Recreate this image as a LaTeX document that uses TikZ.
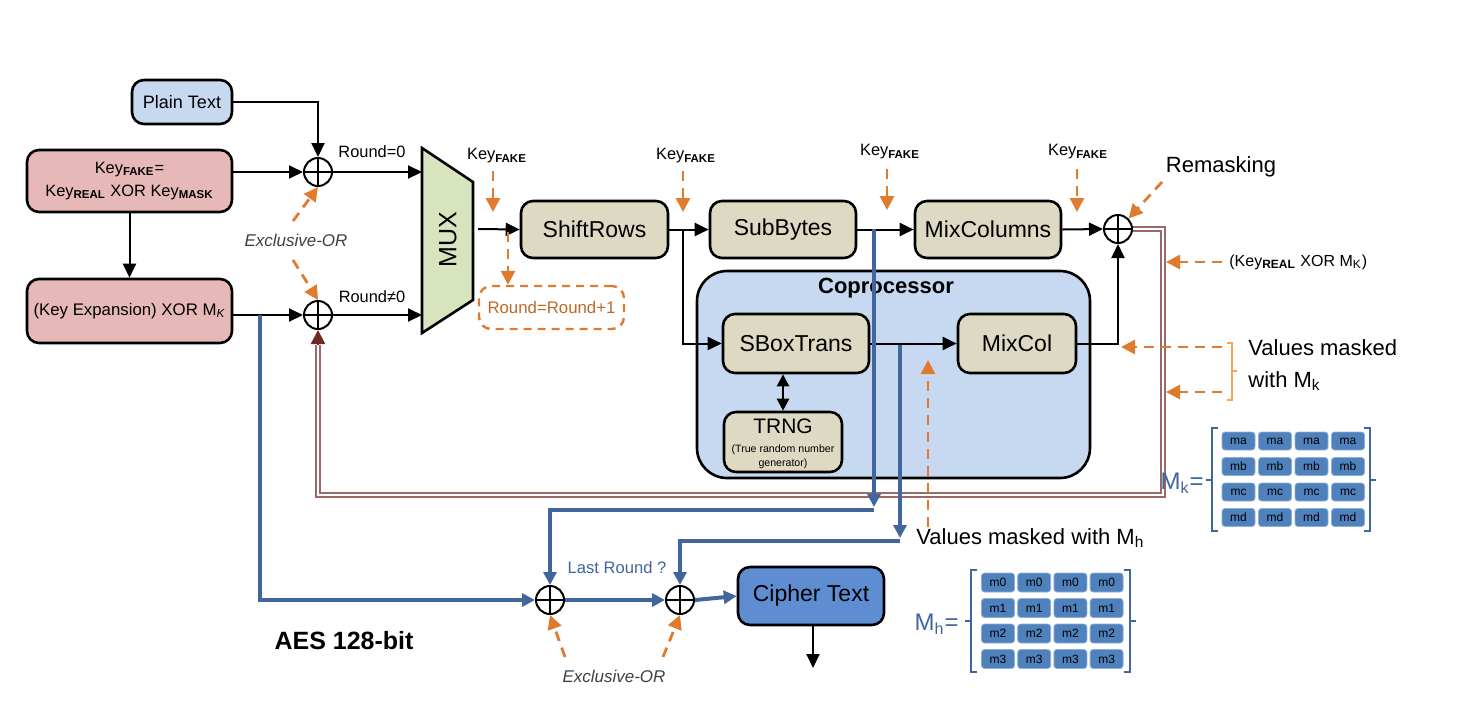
\documentclass[tikz,border=0pt]{standalone}
\usepackage{fontspec}
\setmainfont{Liberation Sans}
\usetikzlibrary{arrows.meta,calc}
\definecolor{tanc}{HTML}{DDD9C3}
\definecolor{pinkc}{HTML}{E6B9B8}
\definecolor{ltblue}{HTML}{C6D9F1}
\definecolor{muxg}{HTML}{D7E4BD}
\definecolor{orng}{HTML}{E07A2F}
\definecolor{orngl}{HTML}{F5A65B}
\definecolor{bline}{HTML}{41669E}
\definecolor{brn}{HTML}{9A6A6A}
\definecolor{dred}{HTML}{6E2A22}
\definecolor{ciph}{HTML}{5E8DD2}
\definecolor{cellc}{HTML}{4F81BD}
\definecolor{cellb}{HTML}{8FB0D8}
\definecolor{mtxt}{HTML}{41659E}
\definecolor{gtxt}{HTML}{404040}
\newcommand\sbb[1]{\textsubscript{\bfseries #1}}
\begin{document}
\begin{tikzpicture}[x=0.5pt,y=-0.5pt,
  blk/.style={draw=black, line width=1.3pt, rounded corners=6pt, fill=tanc, inner sep=0pt,
    font=\fontsize{11.5}{13}\selectfont},
  xor/.style={circle, draw=black, line width=1pt, minimum size=14pt, inner sep=0pt,
    path picture={\draw[line width=1pt] (path picture bounding box.north) -- (path picture bounding box.south)
      (path picture bounding box.west) -- (path picture bounding box.east);}},
  arr/.style={line width=1pt, -{Triangle[length=7pt,width=6.5pt]}},
  ln/.style={line width=1pt},
  bl/.style={line width=2pt, draw=bline},
  barr/.style={line width=2pt, draw=bline, -{Triangle[length=6.5pt,width=6.5pt]}},
  oarr/.style={line width=1.4pt, draw=orng, dash pattern=on 5pt off 3.5pt, -{Triangle[length=7pt,width=7pt,fill=orng]}},
  lbl/.style={inner sep=0pt, font=\fontsize{8.2}{9}\selectfont},
  cellst/.style={fill=cellc, draw=cellb, line width=0.4pt, rounded corners=1.5pt, minimum width=16.5pt,
    minimum height=9pt, inner sep=0pt, font=\fontsize{6}{6}\selectfont},
  brk/.style={draw=mtxt, line width=0.9pt},
]
\useasboundingbox (0,0) rectangle (1464,720);

% ---- left blocks ----
\node[blk, fill=ltblue, minimum width=50pt, minimum height=22pt, font=\fontsize{9}{10}\selectfont] (plain) at (182,102) {Plain Text};
\node[blk, fill=pinkc, minimum width=102.5pt, minimum height=31pt, align=center, font=\fontsize{8.2}{11.5}\selectfont] (keyfake) at (129.5,181) {Key\sbb{FAKE}=\\Key\sbb{REAL} XOR Key\sbb{MASK}};
\node[blk, fill=pinkc, minimum width=102.5pt, minimum height=32pt, font=\fontsize{8.4}{10}\selectfont] (keyexp) at (129.5,311) {(Key Expansion) XOR M\textsubscript{\itshape K}};

\node[xor] (x1) at (318,172) {};
\node[xor] (x2) at (318,315) {};

\node[lbl] (r0) at (372,152) {Round=0};
\node[lbl] (rn0) at (372,297) {Round≠0};
\node[lbl, font=\itshape\fontsize{8.5}{9}\selectfont, text=gtxt] (ex1) at (296,240) {Exclusive-OR};

% MUX
\draw[line width=1.3pt, fill=muxg] (422,148) -- (473,182) -- (473,300) -- (422,333) -- cycle;
\node[rotate=90, inner sep=0pt, font=\fontsize{12.5}{12.5}\selectfont] (mux) at (448,240) {MUX};
\coordinate (muxin1) at (422,172);
\coordinate (muxin2) at (422,315);
\coordinate (muxout) at (478,229);

\draw[arr] (plain.east) -| (x1.north);
\draw[arr] (keyfake.east |- x1) -- (x1.west);
\draw[arr] (keyfake) -- (keyexp);
\draw[arr] (keyexp.east |- x2) -- (x2.west);
\draw[arr] (x1.east) -- (muxin1);
\draw[arr] (x2.east) -- (muxin2);

% ---- coprocessor ----
\node[draw=black, line width=1.3pt, fill=ltblue, rounded corners=15pt, minimum width=196.5pt, minimum height=103.5pt] (copro) at (893.5,374.5) {};
\node[inner sep=0pt, font=\bfseries\fontsize{11}{12}\selectfont] (coprot) at (886,288) {Coprocessor};

% ---- main row ----
\node[blk, minimum width=73.5pt, minimum height=28.5pt] (shift) at (594.5,229.5) {ShiftRows};
\node[blk, minimum width=73pt, minimum height=28.5pt] (subb) at (783,229.5) {SubBytes};
\node[blk, minimum width=73pt, minimum height=28.5pt] (mixc) at (988,229.5) {MixColumns};
\node[xor] (x3) at (1118,229) {};
\node[draw=orng, line width=1.2pt, dash pattern=on 4pt off 3pt, rounded corners=6pt, minimum width=72.5pt, minimum height=21.5pt, inner sep=0pt, text=orng!85!black, font=\fontsize{8.4}{10}\selectfont] (rr) at (551.5,307.5) {Round=Round+1};

\node[blk, minimum width=73pt, minimum height=29.5pt] (sbox) at (796,343.5) {SBoxTrans};
\node[blk, minimum width=59pt, minimum height=29.5pt] (mixcol) at (1017,343.5) {MixCol};
\node[blk, minimum width=59pt, minimum height=30pt] (trng) at (783,442) {};
\node[inner sep=0pt, font=\fontsize{10.5}{11}\selectfont] (trngt) at (783,426) {TRNG};
\node[inner sep=0pt, align=center, font=\fontsize{5.3}{7}\selectfont] (trngs) at (783,457) {(True random number\\generator)};

\coordinate (br1) at (683,229);
\draw[arr] (muxout) -- (shift.west);
\draw[arr] (shift.east) -- (subb.west);
\draw[arr] (br1) |- (sbox.west);
\draw[arr] (subb.east) -- (mixc.west);
\draw[arr] (mixc.east) -- (x3.west);
\draw[arr] (sbox.east) -- (mixcol.west);
\draw[arr] (mixcol.east) -| (x3.south);
\draw[line width=1.2pt, {Triangle[length=6pt,width=6pt]}-{Triangle[length=6pt,width=6pt]}] (trng.north) -- (trng.north |- sbox.south);

% ---- remask feedback (double line) ----
\coordinate (rm1) at (1163,495);
\coordinate (rm2) at (318,495);
\coordinate (rm3) at (318,345);
\draw[draw=brn, double=white, double distance=1.1pt, line width=0.8pt] (x3.east) -| (rm1) -- (rm2) -- (rm3);
\draw[draw=dred, line width=1.2pt, -{Triangle[length=7pt,width=7pt]}] (rm3) -- (x2.south);

% ---- blue paths ----
\coordinate (kb) at (260,315);
\coordinate (sbo) at (874,229);
\coordinate (sbo2) at (874,510);
\coordinate (sto) at (900,345);
\coordinate (sto2) at (900,541);
\node[xor] (x4) at (550,600) {};
\node[xor] (x5) at (680,600) {};
\node[blk, fill=ciph, minimum width=73pt, minimum height=29pt] (cipher) at (811,596) {Cipher Text};
\coordinate (out) at (813,668);

\draw[barr] (kb) |- (x4.west);
\draw[barr] (sbo) -- ($(sbo2)+(0,-3)$);
\draw[barr] (sbo2) -| (x4.north);
\draw[barr] (sto) -- ($(sto2)+(0,-3)$);
\draw[barr] (sto2) -| (x5.north);
\draw[barr] (x4.east) -- (x5.west);
\draw[barr] (x5.east) -- (cipher.west);
\draw[arr] (cipher.south -| out) -- (out);

\node[lbl, font=\fontsize{8.3}{9}\selectfont, text=mtxt] (lr) at (617,568) {Last Round ?};
\node[inner sep=0pt, font=\bfseries\fontsize{12.5}{13}\selectfont] (aes) at (344,641) {AES 128-bit};
\node[lbl, font=\itshape\fontsize{8.5}{9}\selectfont, text=gtxt] (ex2) at (614,676) {Exclusive-OR};

% ---- orange annotations ----
\node[lbl] (kf1) at (497,156) {Key\sbb{FAKE}};
\node[lbl] (kf2) at (686,156) {Key\sbb{FAKE}};
\node[lbl] (kf3) at (890,152) {Key\sbb{FAKE}};
\node[lbl] (kf4) at (1078,152) {Key\sbb{FAKE}};
\draw[oarr] (493,171) -- (493,212);
\draw[oarr] (683,171) -- (683,212);
\draw[oarr] (887,169) -- (887,210);
\draw[oarr] (1077,169) -- (1077,212);
\draw[oarr] (508,232) -- (rr.north -| 508,0);

\draw[oarr] (293,221) -- (x1.south);
\draw[oarr] (293,260) -- (x2.north);
\draw[oarr] (565,657) -- (x4.south);
\draw[oarr] (663,657) -- (x5.south);

\node[inner sep=0pt, font=\fontsize{11}{12}\selectfont] (remask) at (1221,167) {Remasking};
\draw[oarr] (1162,182) -- (x3.north east);

\node[anchor=west, inner sep=0pt, font=\fontsize{8}{9}\selectfont] (krm) at (1229,262) {(Key\sbb{REAL} XOR M\textsubscript{K})};
\draw[oarr] (1222,262) -- (1166,262);

\draw[oarr] (1222,347) -- (1121,347);
\draw[oarr] (1222,392) -- (1166,392);
\draw[draw=orngl, line width=1pt] (1227,343) -- (1232,343) -- (1232,400) -- (1227,400) (1232,371) -- (1237,371);
\node[anchor=north west, align=left, inner sep=0pt, font=\fontsize{11}{16}\selectfont] (vmk) at (1248,339) {Values masked\\with M\textsubscript{k}};

\draw[oarr] (928,527) -- (928,360);
\node[anchor=west, inner sep=0pt, font=\fontsize{11}{12}\selectfont] (vmh) at (916,538) {Values masked with M\textsubscript{h}};

% ---- Mk matrix ----
\node[anchor=east, inner sep=0pt, text=mtxt, font=\fontsize{12}{12}\selectfont] (mklbl) at (1204,483) {M\textsubscript{k}=};
\foreach \r/\t in {0/ma,1/mb,2/mc,3/md}{
  \foreach \c in {0,1,2,3}{
    \node[cellst] (mk-\r-\c) at ({1238.5+36.5*\c},{441+25.5*\r}) {\t};
  }
}
\draw[brk] (1218,428) -- (1212,428) -- (1212,531) -- (1218,531) (1212,480) -- (1206,480);
\draw[brk] (1364,428) -- (1370,428) -- (1370,531) -- (1364,531) (1370,480) -- (1376,480);

% ---- Mh matrix ----
\node[anchor=east, inner sep=0pt, text=mtxt, font=\fontsize{12}{12}\selectfont] (mhlbl) at (959,624) {M\textsubscript{h}=};
\foreach \r/\t in {0/m0,1/m1,2/m2,3/m3}{
  \foreach \c in {0,1,2,3}{
    \node[cellst, minimum height=9.5pt] (mh-\r-\c) at ({998+36.2*\c},{582.5+25.5*\r}) {\t};
  }
}
\draw[brk] (977,570) -- (971,570) -- (971,672) -- (977,672) (971,621) -- (965,621);
\draw[brk] (1124,570) -- (1130,570) -- (1130,672) -- (1124,672) (1130,621) -- (1136,621);
\end{tikzpicture}
\end{document}
